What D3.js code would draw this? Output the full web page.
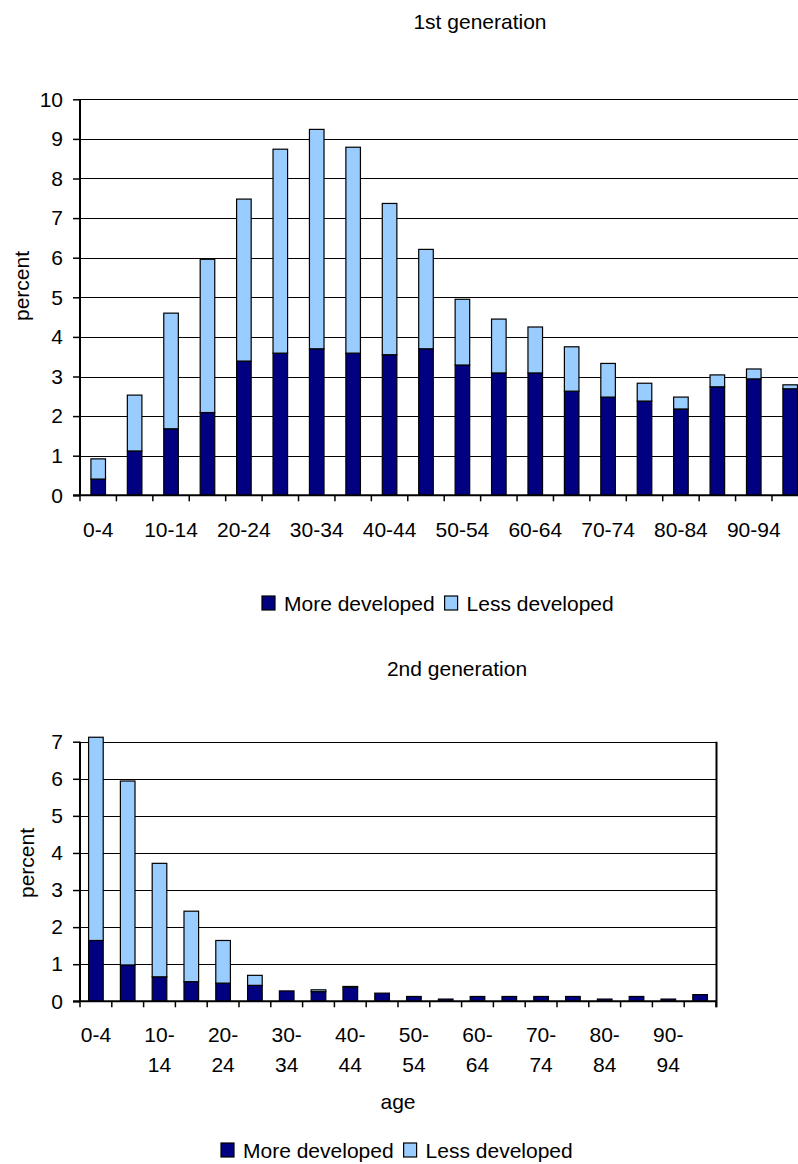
<!DOCTYPE html>
<html>
<head>
<meta charset="utf-8">
<script src="https://cdn.jsdelivr.net/npm/d3@7"></script>
<style>
  html, body { margin: 0; padding: 0; background: #fff; }
  svg { display: block; font-family: "Liberation Sans", Arial, sans-serif; }
</style>
</head>
<body>
<svg id="chart" width="798" height="1164"></svg>
<script>
// Age groups shared by both panels
const ageGroups = ["0-4","5-9","10-14","15-19","20-24","25-29","30-34","35-39","40-44","45-49",
                   "50-54","55-59","60-64","65-69","70-74","75-79","80-84","85-89","90-94","95-99"];

// 1st generation, percent of population by origin
const gen1More = [0.41,1.12,1.68,2.09,3.39,3.59,3.70,3.59,3.55,3.70,3.29,3.09,3.09,2.63,2.48,2.38,2.18,2.74,2.94,2.69];
const gen1Less = [0.51,1.41,2.92,3.87,4.09,5.15,5.54,5.20,3.82,2.51,1.66,1.36,1.16,1.12,0.85,0.45,0.30,0.30,0.25,0.10];

// 2nd generation, percent of population by origin
const gen2More = [1.64,0.98,0.66,0.53,0.49,0.43,0.28,0.26,0.38,0.22,0.13,0.06,0.13,0.13,0.13,0.13,0.06,0.13,0.06,0.18];
const gen2Less = [5.48,4.96,3.06,1.90,1.15,0.27,0,0.05,0.02,0,0,0,0,0,0,0,0,0,0,0];

// Tick values
const gen1Ticks = [0,1,2,3,4,5,6,7,8,9,10];
const gen2Ticks = [0,1,2,3,4,5,6,7];

// Category labels shown under the axis (every other group)
const gen1Labels = [["0-4"],[],["10-14"],[],["20-24"],[],["30-34"],[],["40-44"],[],
                    ["50-54"],[],["60-64"],[],["70-74"],[],["80-84"],[],["90-94"],[]];
const gen2Labels = [["0-4"],[],["10-","14"],[],["20-","24"],[],["30-","34"],[],["40-","44"],[],
                    ["50-","54"],[],["60-","64"],[],["70-","74"],[],["80-","84"],[],["90-","94"],[]];

const seriesNames = ["More developed", "Less developed"];
const seriesColors = ["#000080", "#99ccff"];

const svg = d3.select("#chart");
svg.append("rect").attr("width", 798).attr("height", 1164).attr("fill", "#fff");

const FONT = 21;

function drawPanel(opt) {
  const g = svg.append("g");
  const rows = ageGroups.map((a, i) => ({ age: a, more: opt.more[i], less: opt.less[i] }));
  const stacked = d3.stack().keys(["more", "less"])(rows);

  const x = d3.scaleBand().domain(ageGroups)
    .range([opt.left, opt.right]).paddingInner(opt.pad).paddingOuter(opt.pad / 2);
  const edge = d3.scaleLinear().domain([0, ageGroups.length]).range([opt.left, opt.right]);
  const y = d3.scaleLinear().domain([0, opt.yMax]).range([opt.bottom, opt.top]);

  // horizontal gridlines
  g.append("g").selectAll("line").data(opt.ticks.filter(t => t > 0)).join("line")
    .attr("x1", opt.left).attr("x2", opt.right)
    .attr("y1", d => Math.round(y(d)) + 0.5).attr("y2", d => Math.round(y(d)) + 0.5)
    .attr("stroke", "#000").attr("stroke-width", 1.2);

  if (opt.frame) {
    g.append("line").attr("x1", opt.right + 0.5).attr("x2", opt.right + 0.5)
      .attr("y1", y(opt.yMax)).attr("y2", opt.bottom + 6)
      .attr("stroke", "#000").attr("stroke-width", 2);
  }

  // stacked bars
  g.append("g").selectAll("g").data(stacked).join("g")
    .attr("fill", (d, i) => seriesColors[i])
    .selectAll("rect").data(d => d.filter(s => s[1] - s[0] > 0)).join("rect")
    .attr("x", d => x(d.data.age))
    .attr("width", x.bandwidth())
    .attr("y", d => y(d[1]))
    .attr("height", d => y(d[0]) - y(d[1]))
    .attr("stroke", "#000").attr("stroke-width", 1.2);

  // y axis
  const yAxis = g.append("g").attr("transform", `translate(${opt.left},0)`)
    .call(d3.axisLeft(y).tickValues(opt.ticks).tickFormat(d3.format("d"))
      .tickSize(7).tickPadding(10).tickSizeOuter(0));
  yAxis.select(".domain").attr("stroke", "#000").attr("stroke-width", 2)
    .attr("d", `M0,${y(opt.yMax)}V${opt.bottom}`);
  yAxis.selectAll(".tick line").attr("stroke", "#000").attr("stroke-width", 1.5);
  yAxis.selectAll("text").attr("font-size", FONT).attr("fill", "#000")
    .attr("font-family", "'Liberation Sans', Arial, sans-serif");

  // x baseline and category ticks
  g.append("line").attr("x1", opt.left - 7).attr("x2", opt.right)
    .attr("y1", opt.bottom).attr("y2", opt.bottom)
    .attr("stroke", "#000").attr("stroke-width", 2);
  g.append("g").selectAll("line").data(d3.range(ageGroups.length + 1)).join("line")
    .attr("x1", d => edge(d)).attr("x2", d => edge(d))
    .attr("y1", opt.bottom).attr("y2", opt.bottom + 6)
    .attr("stroke", "#000").attr("stroke-width", 1.5);

  // category labels
  const lab = g.append("g").selectAll("text").data(ageGroups).join("text")
    .attr("x", d => x(d) + x.bandwidth() / 2)
    .attr("y", opt.bottom + opt.labelGap)
    .attr("text-anchor", "middle").attr("font-size", FONT).attr("fill", "#000");
  lab.selectAll("tspan").data((d, i) => opt.labels[i]).join("tspan")
    .attr("x", function () { return d3.select(this.parentNode).attr("x"); })
    .attr("dy", (d, i) => i === 0 ? 0 : 30)
    .text(d => d);

  // y title
  g.append("text")
    .attr("transform", `translate(${opt.yTitleX},${opt.yTitleY}) rotate(-90)`)
    .attr("text-anchor", "middle").attr("font-size", FONT).attr("fill", "#000")
    .text("percent");

  // chart title
  g.append("text").attr("x", opt.titleX).attr("y", opt.titleY)
    .attr("text-anchor", "middle").attr("font-size", FONT).attr("fill", "#000")
    .text(opt.title);

  if (opt.xTitle) {
    g.append("text").attr("x", (opt.left + opt.right) / 2).attr("y", opt.xTitleY)
      .attr("text-anchor", "middle").attr("font-size", FONT).attr("fill", "#000")
      .text(opt.xTitle);
  }

  // legend
  const leg = g.append("g");
  let lx = opt.legendX;
  seriesNames.forEach((name, i) => {
    leg.append("rect").attr("x", lx).attr("y", opt.legendY - 15).attr("width", 13).attr("height", 14)
      .attr("fill", seriesColors[i]).attr("stroke", "#000").attr("stroke-width", 1.2);
    const t = leg.append("text").attr("x", lx + 22).attr("y", opt.legendY)
      .attr("font-size", FONT).attr("fill", "#000").text(name);
    lx += 22 + t.node().getComputedTextLength() + 10;
  });
}

drawPanel({
  title: "1st generation", titleX: 480, titleY: 29,
  more: gen1More, less: gen1Less, ticks: gen1Ticks, yMax: 10, labels: gen1Labels,
  left: 80, right: 808.4, top: 99.3, bottom: 495.3, pad: 0.6, labelGap: 42,
  yTitleX: 29, yTitleY: 286, frame: false,
  legendX: 262, legendY: 611
});

drawPanel({
  title: "2nd generation", titleX: 457, titleY: 676,
  more: gen2More, less: gen2Less, ticks: gen2Ticks, yMax: 7, labels: gen2Labels,
  left: 80, right: 716, top: 741.7, bottom: 1001.3, pad: 0.54, labelGap: 41,
  yTitleX: 34, yTitleY: 863, frame: true,
  xTitle: "age", xTitleY: 1109,
  legendX: 221, legendY: 1158
});
</script>
</body>
</html>
